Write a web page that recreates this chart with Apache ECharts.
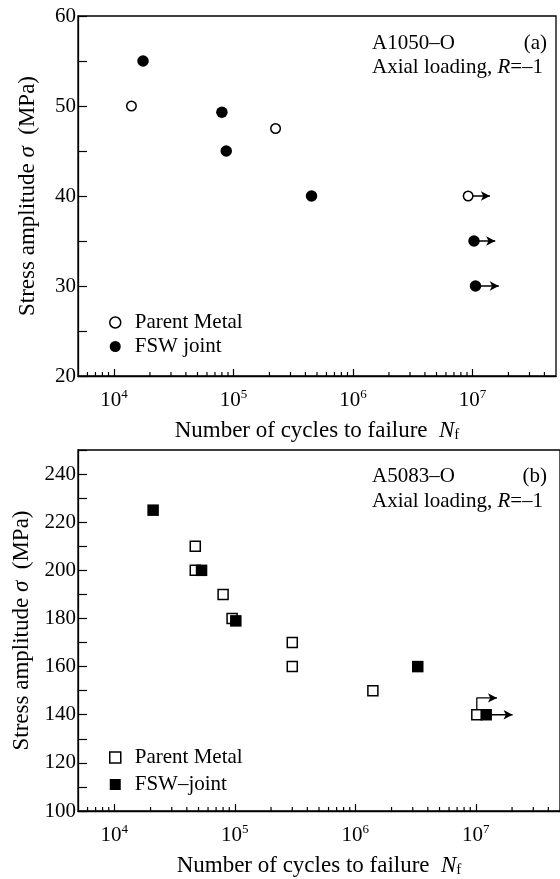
<!DOCTYPE html>
<html>
<head>
<meta charset="utf-8">
<script src="https://cdn.jsdelivr.net/npm/echarts@6/dist/echarts.min.js"></script>
<style>
html, body { margin: 0; padding: 0; background: #fff; }
#chart { width: 560px; height: 879px; }
</style>
</head>
<body>
<div id="chart"></div>
<script>
// (a) A1050-O, axial loading R=-1
const parentA_N = [1.4e4, 2.25e5, 9.2e6];
const parentA_S = [50, 47.5, 40];
const fswA_N = [1.75e4, 8.0e4, 8.7e4, 4.5e5, 1.03e7, 1.06e7];
const fswA_S = [55, 49.3, 45, 40, 35, 30];
// run-outs: start N, stress, arrow tip N
const runoutA_N = [9.2e6, 1.03e7, 1.06e7];
const runoutA_S = [40, 35, 30];
const runoutA_tip = [1.4e7, 1.55e7, 1.66e7];

// (b) A5083-O
const parentB_N = [4.7e4, 4.7e4, 8.0e4, 9.5e4, 3.0e5, 3.0e5, 1.4e6, 1.02e7];
const parentB_S = [210, 200, 190, 180, 170, 160, 150, 140];
const fswB_N = [2.1e4, 5.3e4, 1.02e5, 3.3e6, 1.22e7];
const fswB_S = [225, 200, 179, 160, 140];
const runoutB_N = [1.02e7, 1.22e7];
const runoutB_S = [140, 140];
const runoutB_bend = [147, null];   // the parent metal arrow steps up first
const runoutB_tip = [1.5e7, 2.02e7];

const xMin = 5000, xMax = 5e7;
const serif = '"Liberation Serif", "DejaVu Serif", serif';

const zip = (a, b) => a.map((v, i) => [v, b[i]]);

// minor log ticks 2..9 of each decade
const minorTicks = [];
for (let e = 3; e <= 7; e++) {
  for (let k = 2; k <= 9; k++) {
    const v = k * Math.pow(10, e);
    if (v > xMin && v < xMax) minorTicks.push(v);
  }
}

const openStyle = { color: '#fff', borderColor: '#000', borderWidth: 1.5, opacity: 1 };
const fillStyle = { color: '#000', opacity: 1 };

function xAxisOf(gi) {
  return {
    type: 'log', logBase: 10, gridIndex: gi, min: xMin, max: xMax,
    name: '{t|Number of cycles to failure  }{i|N}{s|f}',
    nameLocation: 'middle', nameGap: 42,
    nameTextStyle: {
      color: '#000',
      rich: {
        t: { fontFamily: serif, fontSize: 23, color: '#000' },
        i: { fontFamily: serif, fontSize: 23, fontStyle: 'italic', color: '#000' },
        s: { fontFamily: serif, fontSize: 15, color: '#000', padding: [10, 0, 0, 0] }
      }
    },
    axisLine: { lineStyle: { color: '#000', width: 1.3 } },
    axisTick: { inside: true, length: 7, lineStyle: { color: '#000', width: 1.2 } },
    splitLine: { show: false },
    axisLabel: {
      margin: 12, showMinLabel: false, showMaxLabel: false,
      formatter: function (v) {
        const e = Math.log10(v);
        if (Math.abs(e - Math.round(e)) > 0.01) return '';
        return '{b|10}{p|' + Math.round(e) + '}';
      },
      rich: {
        b: { fontFamily: serif, fontSize: 21, color: '#000' },
        p: { fontFamily: serif, fontSize: 13, color: '#000', padding: [0, 0, 12, 0] }
      }
    }
  };
}

function yAxisOf(gi, min, max, step, labelStep) {
  return {
    type: 'value', gridIndex: gi, min: min, max: max, interval: step,
    name: '{a|Stress amplitude }{i|σ}{a|  (MPa)}',
    nameLocation: 'middle', nameGap: 39,
    nameTextStyle: {
      color: '#000',
      rich: {
        a: { fontFamily: serif, fontSize: 23, color: '#000' },
        i: { fontFamily: serif, fontSize: 23, fontStyle: 'italic', color: '#000' }
      }
    },
    axisLine: { lineStyle: { color: '#000', width: 1.3 } },
    axisTick: { inside: true, length: 9, lineStyle: { color: '#000', width: 1.2 } },
    splitLine: { show: false },
    axisLabel: {
      margin: 2, color: '#000', fontFamily: serif, fontSize: 21,
      formatter: v => (v % labelStep === 0) ? String(v) : ''
    }
  };
}

function tickSeries(idx, yMin) {
  return {
    type: 'scatter', xAxisIndex: idx, yAxisIndex: idx, silent: true, clip: false, z: 4,
    symbol: 'rect', symbolSize: [1.2, 4], symbolOffset: [0, -2],
    itemStyle: { color: '#000', opacity: 1 },
    data: minorTicks.map(v => [v, yMin])
  };
}

// run-out arrows as broken line series, drawn beneath the symbols
function arrowData(Ns, Ss, tips, bends) {
  const out = [];
  Ns.forEach((n, i) => {
    let y = Ss[i];
    out.push({ value: [n, y], symbol: 'none' });
    if (bends && bends[i] != null) {
      out.push({ value: [n, bends[i]], symbol: 'none' });
      y = bends[i];
    }
    out.push({ value: [tips[i], y], symbol: 'arrow', symbolRotate: -90, symbolSize: [7, 9] });
    out.push('-');
  });
  return out;
}

function arrowSeries(idx, data) {
  return {
    type: 'line', xAxisIndex: idx, yAxisIndex: idx, z: 1, silent: true,
    showAllSymbol: true, connectNulls: false,
    lineStyle: { color: '#000', width: 1.3 },
    itemStyle: { color: '#000', borderWidth: 0, opacity: 1 },
    emphasis: { disabled: true },
    data: data
  };
}

function annot(text, left, top) {
  return {
    type: 'text', left: left, top: top,
    style: {
      text: text, fill: '#000', font: '21px ' + serif,
      rich: { i: { fontStyle: 'italic', fontFamily: serif, fontSize: 21, fill: '#000' } }
    }
  };
}

const legendBase = {
  orient: 'vertical', itemWidth: 11, itemHeight: 11,
  textStyle: { fontFamily: serif, fontSize: 21, color: '#000', padding: [0, 0, 0, 9] },
  formatter: name => name.replace(' (b)', '')
};

const option = {
  animation: false,
  backgroundColor: '#fff',
  grid: [
    { left: 78, right: 4, top: 16, height: 360, show: true, borderColor: '#000', borderWidth: 1.3 },
    { left: 78, right: 0, top: 450, height: 361, show: true, borderColor: '#000', borderWidth: 1.3 }
  ],
  xAxis: [xAxisOf(0), xAxisOf(1)],
  yAxis: [yAxisOf(0, 20, 60, 5, 10), yAxisOf(1, 100, 250, 10, 20)],
  legend: [
    Object.assign({}, legendBase, {
      left: 104, top: 307, itemGap: 3,
      data: [
        { name: 'Parent Metal', icon: 'circle', itemStyle: openStyle },
        { name: 'FSW joint', icon: 'circle', itemStyle: fillStyle }
      ]
    }),
    Object.assign({}, legendBase, {
      left: 104, top: 742, itemGap: 6,
      data: [
        { name: 'Parent Metal (b)', icon: 'rect', itemStyle: openStyle },
        { name: 'FSW–joint', icon: 'rect', itemStyle: fillStyle }
      ]
    })
  ],
  graphic: [
    annot('A1050–O', 372, 33),
    { type: 'text', right: 13, top: 33, style: { text: '(a)', fill: '#000', font: '21px ' + serif } },
    annot('Axial loading, {i|R}=–1', 372, 57),
    annot('A5083–O', 372, 466),
    { type: 'text', right: 13, top: 466, style: { text: '(b)', fill: '#000', font: '21px ' + serif } },
    annot('Axial loading, {i|R}=–1', 372, 491)
  ],
  series: [
    arrowSeries(0, arrowData(runoutA_N, runoutA_S, runoutA_tip)),
    arrowSeries(1, arrowData(runoutB_N, runoutB_S, runoutB_tip, runoutB_bend)),
    tickSeries(0, 20),
    tickSeries(1, 100),
    {
      name: 'Parent Metal', type: 'scatter', xAxisIndex: 0, yAxisIndex: 0, z: 3,
      symbol: 'circle', symbolSize: 9.5, itemStyle: openStyle,
      data: zip(parentA_N, parentA_S)
    },
    {
      name: 'FSW joint', type: 'scatter', xAxisIndex: 0, yAxisIndex: 0, z: 3,
      symbol: 'circle', symbolSize: 11.5, itemStyle: fillStyle,
      data: zip(fswA_N, fswA_S)
    },
    {
      name: 'Parent Metal (b)', type: 'scatter', xAxisIndex: 1, yAxisIndex: 1, z: 3,
      symbol: 'rect', symbolSize: 10, itemStyle: openStyle,
      data: zip(parentB_N, parentB_S)
    },
    {
      name: 'FSW–joint', type: 'scatter', xAxisIndex: 1, yAxisIndex: 1, z: 3,
      symbol: 'rect', symbolSize: 11.5, itemStyle: fillStyle,
      data: zip(fswB_N, fswB_S)
    }
  ]
};

const chart = echarts.init(document.getElementById('chart'), null, { renderer: 'canvas' });
chart.setOption(option);
</script>
</body>
</html>
